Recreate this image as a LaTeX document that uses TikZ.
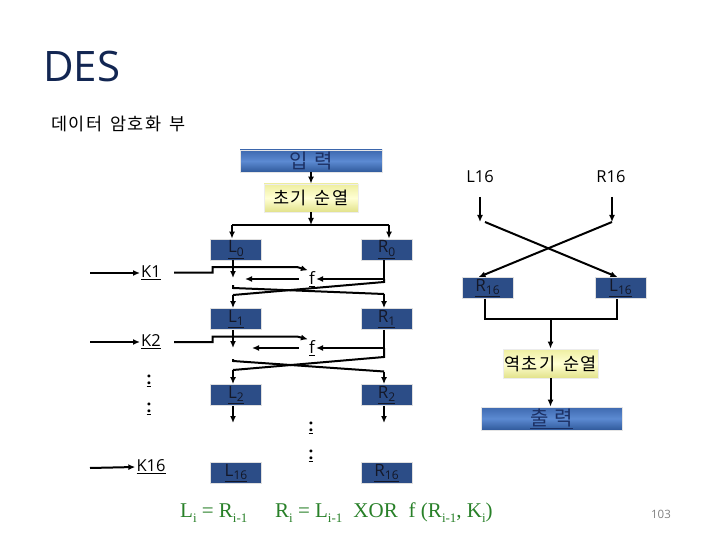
\documentclass[tikz,border=0pt]{standalone}
\usepackage{fontspec}
\setmainfont{Open Sans}
\newfontfamily\kr{Noto Sans CJK KR}
\newfontfamily\tms{Liberation Serif}
\usetikzlibrary{arrows.meta,calc}
\definecolor{navy}{RGB}{18,38,82}
\definecolor{boxblue}{RGB}{44,77,135}
\definecolor{btop}{RGB}{62,105,175}
\definecolor{bmid}{RGB}{92,138,210}
\definecolor{bbot}{RGB}{48,90,155}
\definecolor{ytop}{RGB}{238,238,160}
\definecolor{ymid}{RGB}{255,255,212}
\definecolor{ybot}{RGB}{226,226,138}
\definecolor{eqgreen}{RGB}{40,128,40}
\definecolor{ktext}{RGB}{28,48,100}
\definecolor{regtext}{RGB}{20,24,40}
\newcommand\sbs[1]{\raisebox{-0.28em}{\fontsize{13}{13}\selectfont #1}}
\newcommand\bsub[1]{\raisebox{-0.2em}{\fontsize{12}{12}\selectfont #1}}
\newcommand\ksp{\hspace{0.45em}}
\newcommand\kc{\hspace{1.5pt}}
\begin{document}
\begin{tikzpicture}[x=1pt,y=-1pt,
  arr/.style={-{Latex[length=7pt,width=6pt]}, line width=2pt},
  ln/.style={line width=2pt},
  thin/.style={line width=1.1pt},
  regbox/.style={fill=boxblue, draw=gray!25, line width=0.8pt, minimum width=51pt,
     minimum height=21pt, inner sep=0pt, text=regtext, font=\fontsize{17}{17}\selectfont},
  bluebar/.style={top color=btop, bottom color=bbot, middle color=bmid, draw=gray!20,
     line width=0.8pt, inner sep=0pt, text=ktext, font=\kr\fontsize{20}{20}\selectfont},
  yelbox/.style={top color=ytop, bottom color=ybot, middle color=ymid, draw=gray!15,
     line width=0.8pt, inner sep=0pt, font=\kr\fontsize{17.5}{17.5}\selectfont},
  lab/.style={inner sep=1pt, font=\fontsize{16.5}{16.5}\selectfont},
  fnode/.style={inner sep=1pt, font=\fontsize{17}{17}\selectfont},
  dots/.style={inner sep=0pt, font=\bfseries\fontsize{17}{17}\selectfont},
  eq/.style={inner sep=0pt, text=eqgreen, font=\tms\fontsize{21}{21}\selectfont}
]
\useasboundingbox (0,0) rectangle (720,540);

% title
\node[anchor=base west, inner sep=0pt, text=navy, font=\fontsize{42}{42}\selectfont] (title) at (43,82) {DES};
\node[anchor=base west, inner sep=0pt, font=\kr\fontsize{17.5}{17.5}\selectfont] (sub) at (51,131) {데\kc 이\kc 터\ksp 암\kc 호\kc 화\ksp 부};

% top boxes
\node[bluebar, minimum width=142pt, minimum height=22pt] (in) at (311,161) {입\hspace{6pt}력};
\node[yelbox, minimum width=94pt, minimum height=28pt] (ip) at (311,198) {초\kc 기\ksp 순\kc 열};
\draw[arr] (in.south) -- (ip.north);

% registers
\node[regbox] (L0) at (236,249.5) {\underline{L\bsub{0}}};
\node[regbox] (R0) at (386.5,249.5) {\underline{R\bsub{0}}};
\node[regbox] (L1) at (236,319) {\underline{L\bsub{1}}};
\node[regbox] (R1) at (386.5,319) {\underline{R\bsub{1}}};
\node[regbox] (L2) at (236,395) {\underline{L\bsub{2}}};
\node[regbox] (R2) at (386.5,395) {\underline{R\bsub{2}}};
\node[regbox] (L16) at (236,473) {\underline{L\bsub{16}}};
\node[regbox] (R16) at (386.5,473) {\underline{R\bsub{16}}};

% split after initial permutation
\coordinate (sp) at (311,225);
\coordinate (spL) at (232,225);
\coordinate (spR) at (389,225);
\draw[arr] (ip.south) -- (sp);
\draw[ln] (spL) -- (spR);
\draw[arr] (spL) -- (spL |- L0.north);
\draw[arr] (spR) -- (spR |- R0.north);

\coordinate (xL) at (233,0);
\coordinate (xR) at (384,0);

% keys
\node[lab] (K1) at (151,273) {\underline{K1}};
\node[lab] (K2) at (151,342) {\underline{K2}};
\node[lab] (K16) at (151,467) {\underline{K16}};
\coordinate (k1s) at (90,273);
\coordinate (k2s) at (90,342);
\coordinate (k16s) at (90,468);
\draw[arr] (k1s) -- (K1.west);
\draw[arr] (k2s) -- (K2.west);
\draw[arr] (k16s) -- (K16.west);

% round 1
\node[fnode] (f1) at (312,279) {\underline{f}};
\draw[arr] (174,272.5) -- (212.5,272.5) -- (212.5,267) -- (297,267) -- (f1.north west);
\draw[arr] (xR |- R0.south) -- (xR |- f1.east) -- (f1.east);
\draw[arr, shorten <=9pt] (f1.west) -- (f1.west -| 245,0);
\draw[arr] (xL |- L0.south) -- (233,278);
\draw[ln] (233,285) -- (233,288) -- (384,294);
\draw[arr] (384,294) -- (xR |- R1.north);
\draw[ln] (xR |- f1.east) -- (384,282) -- (233,295);
\draw[arr] (233,295) -- (xL |- L1.north);

% round 2
\node[fnode] (f2) at (312,348) {\underline{f}};
\draw[arr] (174,342) -- (212.5,342) -- (212.5,336.5) -- (297,336.5) -- (f2.north west);
\draw[arr] (xR |- R1.south) -- (xR |- f2.east) -- (f2.east);
\draw[arr, shorten <=9pt] (f2.west) -- (f2.west -| 252,0);
\draw[arr] (xL |- L1.south) -- (233,348);
\draw[ln] (233,359) -- (233,361) -- (384,371.5);
\draw[arr] (384,371.5) -- (xR |- R2.north);
\draw[ln] (xR |- f2.east) -- (384,357) -- (233,370);
\draw[arr] (233,370) -- (xL |- L2.north);

% after round 2
\draw[arr] (xL |- L2.south) -- (233,423);
\draw[arr] (xR |- R2.south) -- (384,423);

% dots
\node[dots] (d1) at (149,381) {\underline{:}};
\node[dots] (d2) at (149,409) {\underline{:}};
\node[dots] (d3) at (311,428) {\underline{:}};
\node[dots] (d4) at (311,456) {\underline{:}};

% right part: final swap
\node[lab] (L16t) at (480,177) {L16};
\node[lab] (R16t) at (611,177) {R16};
\node[regbox] (R16b) at (487.5,288) {\underline{R\bsub{16}}};
\node[regbox] (L16b) at (620.5,288) {\underline{L\bsub{16}}};
\coordinate (a1) at (480,222);
\coordinate (a2) at (612,222);
\coordinate (a1s) at (480,197);
\coordinate (a2s) at (612,197);
\draw[arr] (a1s) -- (a1);
\draw[arr] (a2s) -- (a2);
\draw[arr] (485,222) -- ($(L16b.north)+(-3,0)$);
\draw[arr] (a2) -- ($(R16b.north)+(-9,0)$);

\node[yelbox, minimum width=95pt, minimum height=29pt] (inv) at (550.5,363.5) {역\kc 초\kc 기\ksp 순\kc 열};
\node[bluebar, minimum width=141pt, minimum height=23pt] (out) at (551.5,418.5) {\underline{출\hspace{6pt}력}};
\coordinate (bj) at (550.5,319);
\draw[thin] ($(R16b.south)+(-2.5,0)$) -- (485,319) -- (617,319) -- ($(L16b.south)+(-3.5,0)$);
\draw[arr] (bj) -- (inv.north);
\draw[arr] (inv.south) -- (out.north -| inv.south);

% equations
\node[eq, anchor=base west] (e1) at (180,517) {L\sbs{i} = R\sbs{i-1}};
\node[eq, anchor=base west] (e2) at (275,517) {R\sbs{i} = L\sbs{i-1}\hspace{11pt}XOR\hspace{11pt}f (R\sbs{i-1}, K\sbs{i})};
\node[anchor=base, inner sep=0pt, text=gray, font=\fontsize{11.5}{11.5}\selectfont] (pg) at (661,518) {103};
\end{tikzpicture}
\end{document}
